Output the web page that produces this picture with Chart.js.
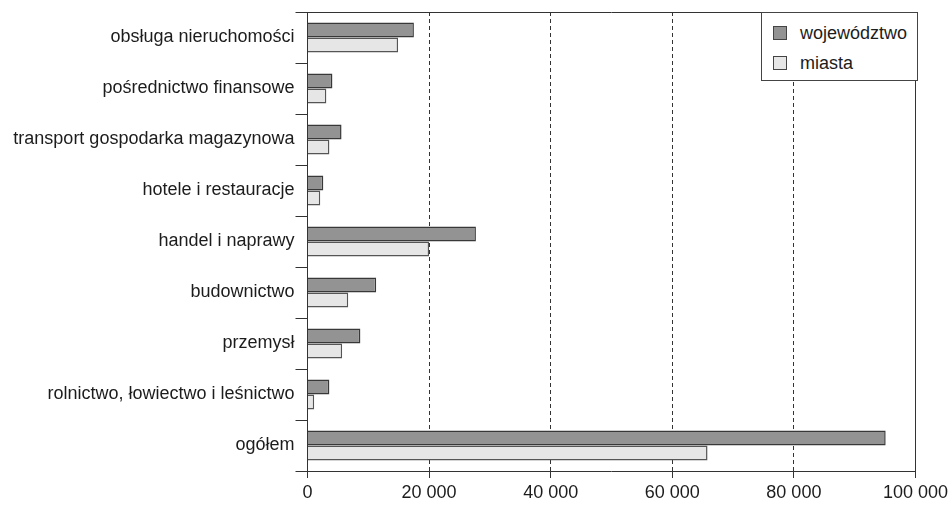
<!DOCTYPE html>
<html lang="pl">
<head>
    <meta charset="UTF-8">
    <title>Pracujący według sekcji</title>
    <script src="https://cdn.jsdelivr.net/npm/chart.js"></script>
    <style>
        body { margin: 0; background: #fff; }
        #wrap { position: relative; width: 952px; height: 505px; }
        #legenda {
            position: absolute; left: 761px; top: 12px; width: 155px; height: 67px;
            border: 1px solid #444; background: #fff;
            font-family: 'Liberation Sans', Arial, sans-serif; font-size: 18px; color: #1c1c1c;
        }
        .poz { position: absolute; left: 11px; height: 20px; line-height: 20px; }
        .kw { display: inline-block; width: 12px; height: 12px; border: 1px solid #444; vertical-align: -1px; margin-right: 13px; }
    </style>
</head>
<body>
<div id="wrap">
    <canvas id="wykres" width="952" height="505"></canvas>
    <div id="legenda"></div>
</div>
<script>
    // kategorie (od góry)
    const kategorie = [
        "obsługa nieruchomości",
        "pośrednictwo finansowe",
        "transport gospodarka magazynowa",
        "hotele i restauracje",
        "handel i naprawy",
        "budownictwo",
        "przemysł",
        "rolnictwo, łowiectwo i leśnictwo",
        "ogółem"
    ];
    const wojewodztwo = [17500, 4100, 5600, 2600, 27700, 11300, 8700, 3600, 95100];
    const miasta = [14900, 3100, 3600, 2100, 20000, 6700, 5700, 1100, 65800];
    const serie = ["województwo", "miasta"];
    const osX = [0, 20000, 40000, 60000, 80000, 100000];

    const kolory = ["#939393", "#e6e6e6"];
    const tekst = "#1c1c1c";
    const linia = "#333";

    function formatLiczby(v) {
        return String(v).replace(/\B(?=(\d{3})+(?!\d))/g, " ");
    }

    // wyrównanie linii 1px do siatki pikseli (jak w Chart.js)
    const wyrownaj = (p) => Math.round(p - 0.5) + 0.5;

    // ramka: górna i prawa krawędź obszaru wykresu
    const ramka = {
        id: "ramka",
        afterDraw(chart) {
            const { ctx, chartArea: a } = chart;
            const xPrawy = wyrownaj(chart.scales.x.getPixelForValue(osX[osX.length - 1]));
            const yGora = wyrownaj(a.top);
            ctx.save();
            ctx.strokeStyle = linia;
            ctx.lineWidth = 1;
            ctx.beginPath();
            ctx.moveTo(a.left, yGora);
            ctx.lineTo(xPrawy, yGora);
            ctx.moveTo(xPrawy, yGora);
            ctx.lineTo(xPrawy, a.bottom);
            ctx.stroke();
            ctx.restore();
        }
    };

    Chart.defaults.font.family = "'Liberation Sans', Arial, sans-serif";
    Chart.defaults.font.size = 18;
    Chart.defaults.color = tekst;

    const ctx = document.getElementById("wykres").getContext("2d");
    const wykres = new Chart(ctx, {
        type: "bar",
        data: {
            labels: kategorie,
            datasets: [
                {
                    label: serie[0],
                    data: wojewodztwo,
                    backgroundColor: kolory[0],
                    borderColor: "#383838",
                    borderWidth: 1.5
                },
                {
                    label: serie[1],
                    data: miasta,
                    backgroundColor: kolory[1],
                    borderColor: "#555",
                    borderWidth: 1.5
                }
            ]
        },
        options: {
            indexAxis: "y",
            responsive: false,
            animation: false,
            barPercentage: 1.0,
            categoryPercentage: 0.59,
            layout: { padding: { top: 12, right: 35, left: 0, bottom: 0 } },
            plugins: {
                legend: { display: false },
                tooltip: { enabled: false }
            },
            scales: {
                x: {
                    min: 0,
                    max: 100000,
                    afterBuildTicks: (s) => { s.ticks = osX.map(v => ({ value: v })); },
                    afterFit: (s) => { s.height = 34; },
                    ticks: {
                        callback: (v) => formatLiczby(v),
                        padding: 4,
                        maxRotation: 0
                    },
                    grid: {
                        color: (c) => (c.index === osX.length - 1 ? "rgba(0,0,0,0)" : linia),
                        lineWidth: 1,
                        tickLength: 7,
                        tickColor: linia,
                        tickBorderDash: []
                    },
                    border: { color: linia, width: 1, dash: [4, 3] }
                },
                y: {
                    afterFit: (s) => { s.width = 307.5; },
                    ticks: { padding: 1, autoSkip: false },
                    grid: {
                        drawOnChartArea: false,
                        color: linia,
                        tickLength: 12
                    },
                    border: { color: linia, width: 1 }
                }
            }
        },
        plugins: [ramka]
    });

    // legenda jako tekst HTML
    const leg = document.getElementById("legenda");
    wykres.data.datasets.forEach((ds, i) => {
        const el = document.createElement("div");
        el.className = "poz";
        el.style.top = (10 + i * 30) + "px";
        el.innerHTML = '<span class="kw" style="background:' + ds.backgroundColor + '"></span>' + ds.label;
        leg.appendChild(el);
    });
</script>
</body>
</html>
